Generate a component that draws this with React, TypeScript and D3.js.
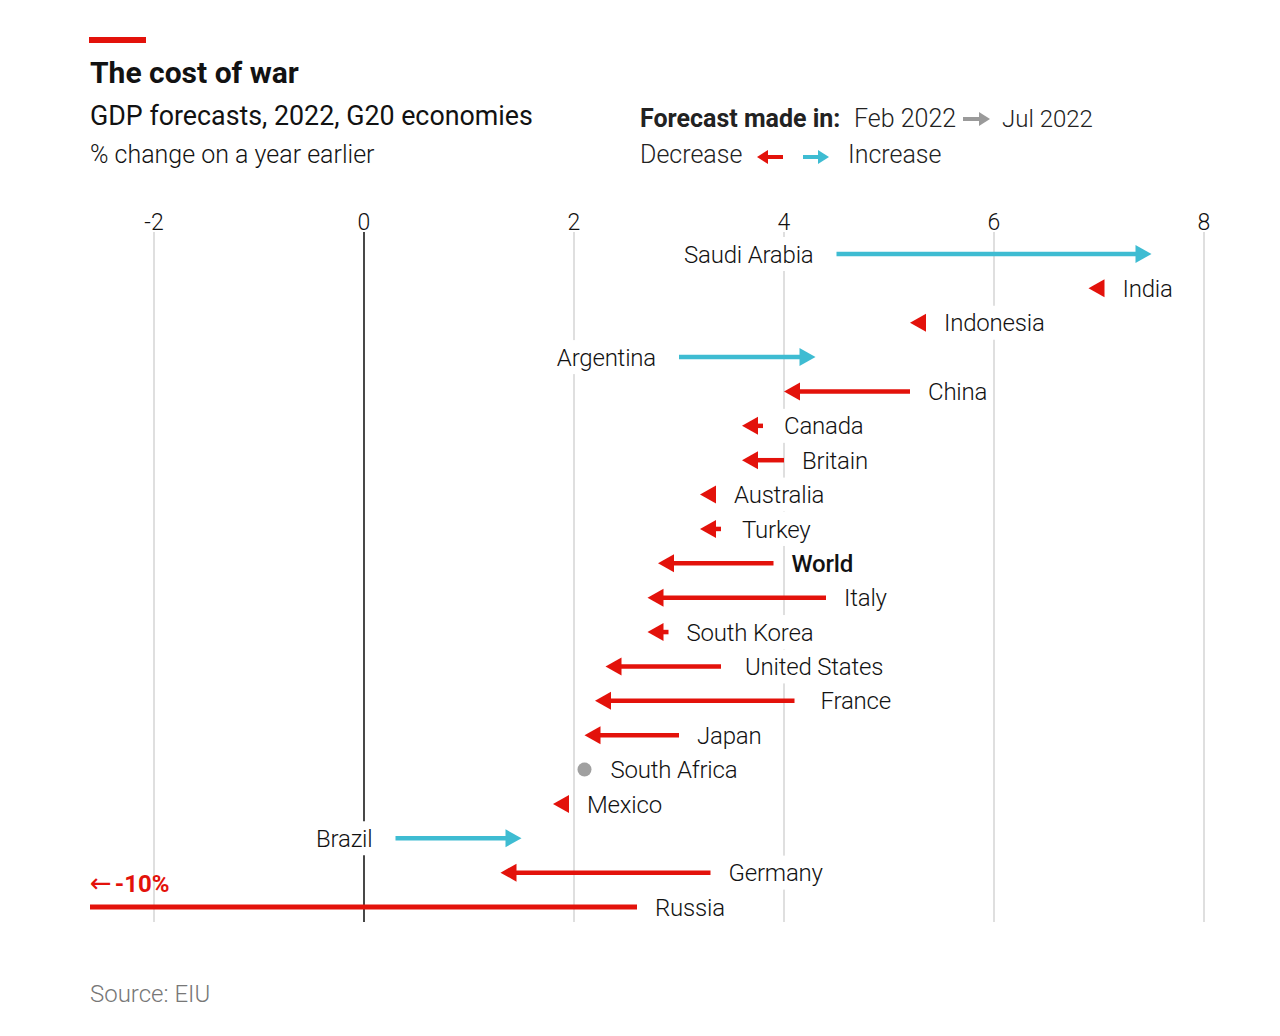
import React, { useEffect, useRef } from 'react';
import * as d3 from 'd3';

const countries = ['Saudi Arabia', 'India', 'Indonesia', 'Argentina', 'China', 'Canada', 'Britain', 'Australia', 'Turkey', 'World', 'Italy', 'South Korea', 'United States', 'France', 'Japan', 'South Africa', 'Mexico', 'Brazil', 'Germany', 'Russia'];
const febForecast = [4.5, 7.0, 5.3, 3.0, 5.2, 3.8, 4.0, 3.3, 3.4, 3.9, 4.4, 2.9, 3.4, 4.1, 3.0, 2.1, 1.9, 0.3, 3.3, 2.6];
const julForecast = [7.5, 6.9, 5.2, 4.3, 4.0, 3.6, 3.6, 3.2, 3.2, 2.8, 2.7, 2.7, 2.3, 2.2, 2.1, 2.1, 1.8, 1.5, 1.3, -10];
const labelOnLeft = ['Saudi Arabia', 'Argentina', 'Brazil'];
const xTicks = [-2, 0, 2, 4, 6, 8];

const RED = '#e3120b';
const TEAL = '#3ebcd2';
const FONT = 'Roboto, "Noto Sans", sans-serif';

export default function App() {
    const ref = useRef<SVGSVGElement | null>(null);
    useEffect(() => {
        const svg = d3.select(ref.current);
        svg.selectAll('*').remove();

        const left = 90, gridTop = 232, gridBottom = 922;
        const x = d3.scaleLinear().domain([-2, 8]).range([154, 1204]);
        const y = d3.scalePoint<string>().domain(countries).range([254, 907]);
        const headLen = 16, headHalf = 9;
        // hand-placed label spacing, as in the original
        const extraGap: Record<string, number> = { 'United States': 6, France: 8, Turkey: 3, Canada: 3 };

        // header
        svg.append('rect').attr('x', 89).attr('y', 37).attr('width', 57).attr('height', 6).attr('fill', RED);
        const txt = (s: string, tx: number, ty: number, size: number, weight = 400, fill = '#121212') =>
            svg.append('text').attr('x', tx).attr('y', ty).attr('font-size', size).attr('font-weight', weight)
                .attr('fill', fill).attr('font-family', FONT).text(s);
        txt('The cost of war', 90, 83, 30, 700);
        txt('GDP forecasts, 2022, G20 economies', 90, 125, 26.8, 400);
        txt('% change on a year earlier', 90, 163, 25, 300);

        // legend
        txt('Forecast made in:', 640, 127, 25, 700, '#222');
        txt('Feb 2022', 854, 127, 25, 300, '#222');
        txt('Jul 2022', 1002, 127, 24, 300, '#222');
        txt('Decrease', 640, 163, 25, 300, '#222');
        txt('Increase', 848, 163, 25, 300, '#222');
        const smallArrow = (x0: number, x1: number, yy: number, color: string) => {
            const dir = x1 > x0 ? 1 : -1;
            const hl = 11, hh = 7;
            svg.append('line').attr('x1', x0).attr('x2', x1 - dir * hl).attr('y1', yy).attr('y2', yy)
                .attr('stroke', color).attr('stroke-width', 4);
            svg.append('path').attr('d', `M${x1},${yy}L${x1 - dir * hl},${yy - hh}L${x1 - dir * hl},${yy + hh}Z`).attr('fill', color);
        };
        smallArrow(963, 990, 119, '#9a9a9a');
        smallArrow(783, 757, 157, RED);
        smallArrow(803, 829, 157, TEAL);

        // gridlines + ticks
        const grid = svg.append('g');
        xTicks.forEach(t => {
            grid.append('line').attr('x1', x(t)).attr('x2', x(t)).attr('y1', gridTop).attr('y2', gridBottom)
                .attr('stroke', t === 0 ? '#1a1a1a' : '#d4d4d4').attr('stroke-width', t === 0 ? 1.6 : 1.5);
            svg.append('text').attr('x', x(t)).attr('y', 230).attr('text-anchor', 'middle')
                .attr('font-size', 23).attr('font-weight', 300).attr('font-family', FONT).attr('fill', '#111').text(t);
        });

        const labels = svg.append('g');
        const marks = svg.append('g');

        countries.forEach((c, i) => {
            const s = febForecast[i], e = julForecast[i];
            const cy = y(c)!;
            const xs = x(s), xe = x(e);
            const color = e > s ? TEAL : e < s ? RED : '#999';
            let rightEdge = xs;
            if (s === e) {
                marks.append('circle').attr('cx', xs).attr('cy', cy).attr('r', 7).attr('fill', '#a0a0a0');
                rightEdge = xs + 8;
            } else if (xe < left) {
                marks.append('line').attr('x1', left).attr('x2', xs).attr('y1', cy).attr('y2', cy)
                    .attr('stroke', color).attr('stroke-width', 5);
            } else {
                const dir = e > s ? 1 : -1;
                const base = xe - dir * headLen;
                if ((xs - base) * dir < 0) {
                    marks.append('line').attr('x1', xs).attr('x2', base + dir).attr('y1', cy).attr('y2', cy)
                        .attr('stroke', color).attr('stroke-width', 4.5);
                }
                marks.append('path').attr('d', `M${xe},${cy}L${base},${cy - headHalf}L${base},${cy + headHalf}Z`).attr('fill', color);
                rightEdge = Math.max(xs, xe, base);
            }
            const onLeft = labelOnLeft.includes(c);
            const t = labels.append('text')
                .attr('x', onLeft ? xs - 23 : rightEdge + 18 + (extraGap[c] || 0))
                .attr('y', cy).attr('dy', '0.36em')
                .attr('text-anchor', onLeft ? 'end' : 'start')
                .attr('font-size', 24).attr('letter-spacing', -0.2)
                .attr('font-weight', c === 'World' ? 500 : 300)
                .attr('font-family', FONT).attr('fill', '#121212').text(c);
            const bb = (t.node() as SVGTextElement).getBBox();
            labels.insert('rect', () => t.node()).attr('x', bb.x - 4).attr('y', cy - 17)
                .attr('width', bb.width + 8).attr('height', 34).attr('fill', '#fff');
        });

        // Russia off-scale note
        const note = svg.append('text').attr('x', 90).attr('y', 892).attr('font-size', 24).attr('font-weight', 700)
            .attr('font-family', FONT).attr('fill', RED);
        note.append('tspan').attr('font-family', '"DejaVu Sans", sans-serif').attr('font-weight', 400).attr('font-size', 26).text('\u2190');
        note.append('tspan').attr('dx', 3).text('-10%');

        txt('Source: EIU', 90, 1002, 24, 300, '#777');
    }, []);
    return <svg ref={ref} width={1280} height={1036} style={{ position: 'absolute', left: 0, top: 0, background: '#fff' }} />;
}
